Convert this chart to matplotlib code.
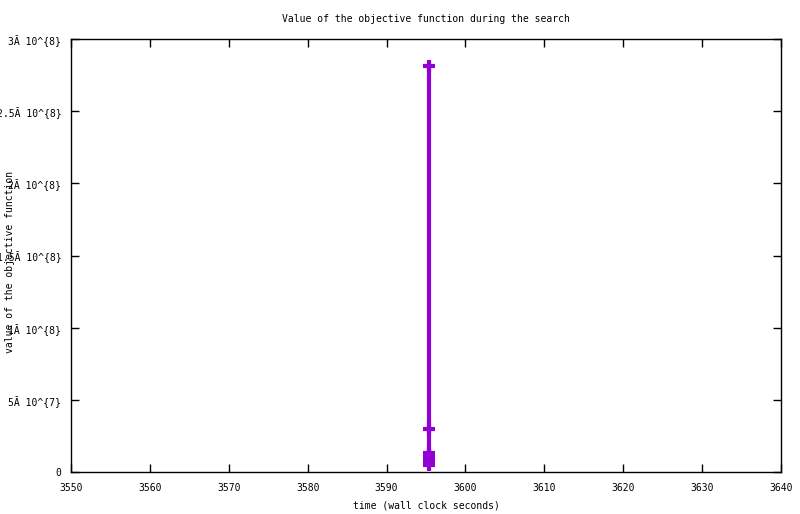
import numpy as np
import matplotlib
matplotlib.use("Agg")
import matplotlib.pyplot as plt

# objective value samples (all within one second of wall clock time)
times = [3595.4, 3595.4, 3595.4, 3595.4, 3595.4, 3595.4, 3595.4]
values = [2.81e8, 2.98e7, 1.35e7, 1.15e7, 0.95e7, 0.75e7, 0.5e7]

xticks = [3550, 3560, 3570, 3580, 3590, 3600, 3610, 3620, 3630, 3640]
yticks = [0, 5e7, 1e8, 1.5e8, 2e8, 2.5e8, 3e8]
ylabels = ['0', '5\u0102 10^{7}', '1\u0102 10^{8}', '1.5\u0102 10^{8}',
           '2\u0102 10^{8}', '2.5\u0102 10^{8}', '3\u0102 10^{8}']


def main():
    plt.rcParams['font.family'] = 'DejaVu Sans Mono'
    fig = plt.figure(figsize=(8, 5.14), dpi=100)
    ax = fig.add_axes([0.08875, 0.0817, 0.8875, 0.8424])

    ax.plot(times, values, color='#9400d3', linewidth=3,
            marker='+', markersize=9, markeredgewidth=3)

    ax.set_xlim(3550, 3640)
    ax.set_ylim(0, 3e8)
    ax.set_xticks(xticks)
    ax.set_xticklabels([str(t) for t in xticks], fontsize=7)
    ax.set_yticks(yticks)
    ax.set_yticklabels(ylabels, fontsize=7)
    ax.tick_params(direction='in', top=True, right=True, length=6, width=1)
    ax.tick_params(axis='x', pad=8)
    ax.tick_params(axis='y', pad=7)
    for s in ax.spines.values():
        s.set_linewidth(1)

    # title and axis labels centred on the plot area, as gnuplot does
    fig.text(426 / 800, 1 - 19 / 514, 'Value of the objective function during the search',
             ha='center', va='center', fontsize=7)
    fig.text(426 / 800, 1 - 505 / 514, 'time (wall clock seconds)',
             ha='center', va='center', fontsize=7)
    fig.text(10 / 800, 1 - 262 / 514, 'value of the objective function',
             ha='center', va='center', rotation=90, fontsize=7)

    fig.savefig('out.png', dpi=100)


if __name__ == '__main__':
    main()
